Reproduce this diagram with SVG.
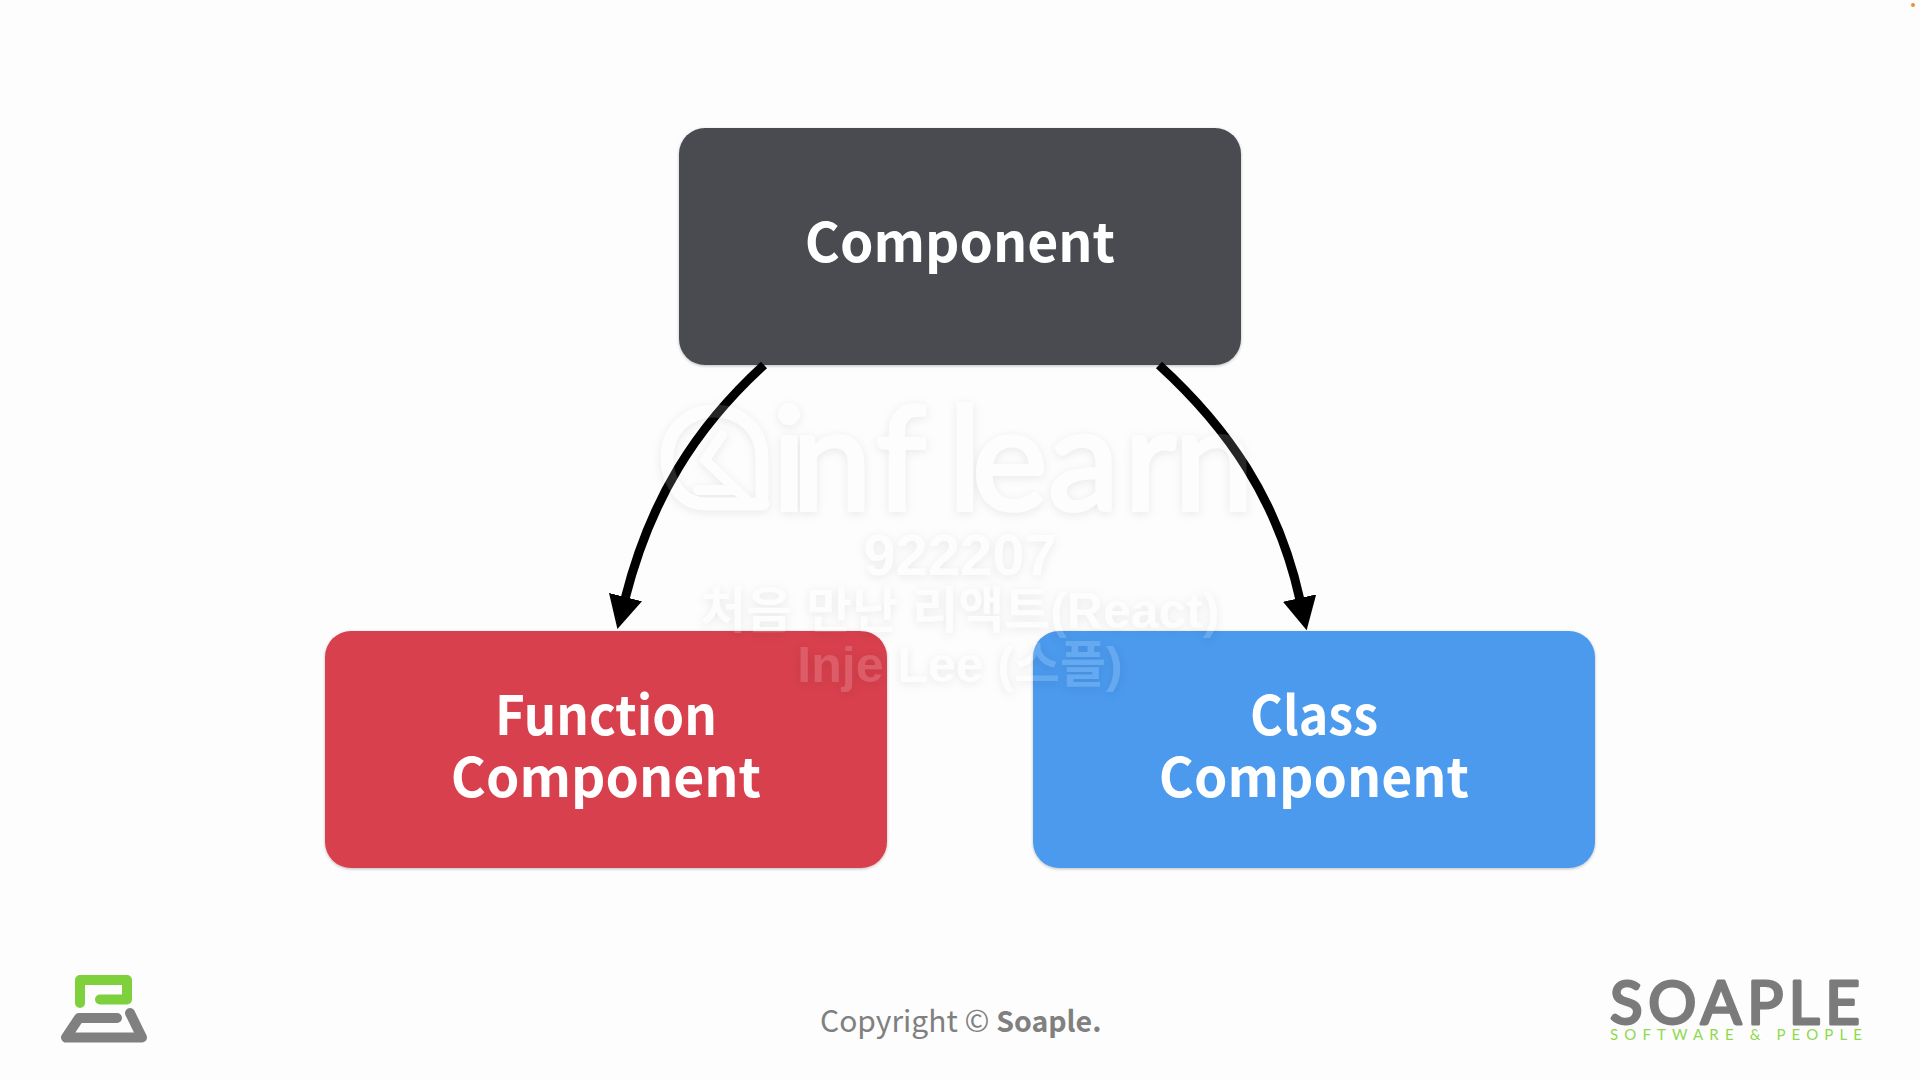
<svg xmlns="http://www.w3.org/2000/svg" width="1920" height="1080" viewBox="0 0 1920 1080">
<defs>
<filter id="s" x="-10%" y="-10%" width="120%" height="125%"><feDropShadow dx="0" dy="1" stdDeviation="1.5" flood-color="#000" flood-opacity=".25"/></filter>
<filter id="w" x="-10%" y="-20%" width="120%" height="140%" color-interpolation-filters="sRGB">
<feGaussianBlur in="SourceAlpha" stdDeviation="5" result="b"/>
<feOffset in="b" dx="0" dy="2" result="o"/>
<feComposite in="o" in2="SourceAlpha" operator="out" result="oo"/>
<feFlood flood-color="#000" flood-opacity=".08"/>
<feComposite in2="oo" operator="in" result="shadow"/>
<feComponentTransfer in="SourceGraphic" result="fill"><feFuncA type="linear" slope=".15"/></feComponentTransfer>
<feMerge><feMergeNode in="shadow"/><feMergeNode in="fill"/></feMerge>
</filter>
<marker id="a" markerUnits="userSpaceOnUse" markerWidth="36" markerHeight="36" refX="2" refY="17" orient="auto"><path d="M0 0L33 17L0 34Z" fill="#000"/></marker>
</defs>
<style>
.n{font-family:"Noto Sans CJK KR","Noto Sans",sans-serif;font-weight:700;font-size:53.5px;fill:#fff;text-anchor:middle}
.wm{font-family:"Liberation Sans","Noto Sans CJK KR",sans-serif;font-weight:700;fill:#fff;text-anchor:middle}
.l{fill:none;stroke-linecap:round;stroke-linejoin:round}
</style>
<rect id="background" width="1920" height="1080" fill="#fdfdfd"/>
<g id="node-component"><rect x="679" y="128" width="562" height="237" rx="26" fill="#4a4c51" filter="url(#s)"/><text class="n" x="960" y="262">Component</text></g>
<g id="node-function"><rect x="325" y="631" width="562" height="237" rx="26" fill="#d83f4d" filter="url(#s)"/><text class="n" x="606" y="735" textLength="222" lengthAdjust="spacingAndGlyphs">Function</text><text class="n" x="606" y="797">Component</text></g>
<g id="node-class"><rect x="1033" y="631" width="562" height="237" rx="26" fill="#4b9aee" filter="url(#s)"/><text class="n" x="1314" y="735" textLength="128" lengthAdjust="spacingAndGlyphs">Class</text><text class="n" x="1314" y="797">Component</text></g>
<g id="connectors" fill="none" stroke="#000" stroke-width="9">
<path d="M764 365C695 428 650 500 625 599" marker-end="url(#a)"/>
<path d="M1159 365C1228 428 1278 500 1300 600" marker-end="url(#a)"/>
</g>
<g id="watermark" filter="url(#w)">
<g class="l" stroke="#fff">
<path stroke-width="13" d="M763 504H706C680 504 667 480 667 458C667 430 688 411 714 411C742 411 762 430 762 458V504"/>
<path stroke-width="10" d="M722 435L705 460L750 503M698 490H733"/>
</g>
<text x="772 792 876 948 972 1048 1124 1174" y="510" font-family="Lato,sans-serif" font-size="143" font-weight="400" fill="#fff" stroke="#fff" stroke-width="4">inflearn</text>
<text class="wm" x="960" y="575" font-size="58">922207</text>
<text class="wm" x="960" y="628" font-size="50">처음 만난 리액트(React)</text>
<text class="wm" x="960" y="682" font-size="50">Inje Lee (스플)</text>
</g>
<g id="footer">
<text x="820" y="1032" font-family="'Noto Sans CJK KR','Noto Sans',sans-serif" font-size="30" fill="#808080">Copyright © <tspan font-weight="700" font-size="28.5">Soaple.</tspan></text>
</g>
<g id="logo-left" class="l">
<path d="M80 1003V980H127V999.5H100" stroke="#7ed13c" stroke-width="10"/>
<path d="M117 1018H79L66 1037.5H142L130 1013" stroke="#808080" stroke-width="10"/>
</g>
<g id="logo-right">
<text x="1610" y="1024" font-family="Lato,sans-serif" font-weight="400" font-size="60" fill="#7b7b7b" stroke="#7b7b7b" stroke-width="3" stroke-linejoin="round" textLength="250" lengthAdjust="spacing">SOAPLE</text>
<text x="1610" y="1040" font-family="Lato,sans-serif" font-weight="400" font-size="15" fill="#8fd94e" textLength="252">SOFTWARE &amp; PEOPLE</text>
</g>
<circle id="dot" cx="1913" cy="5" r="2" fill="#e8913a"/>
</svg>
